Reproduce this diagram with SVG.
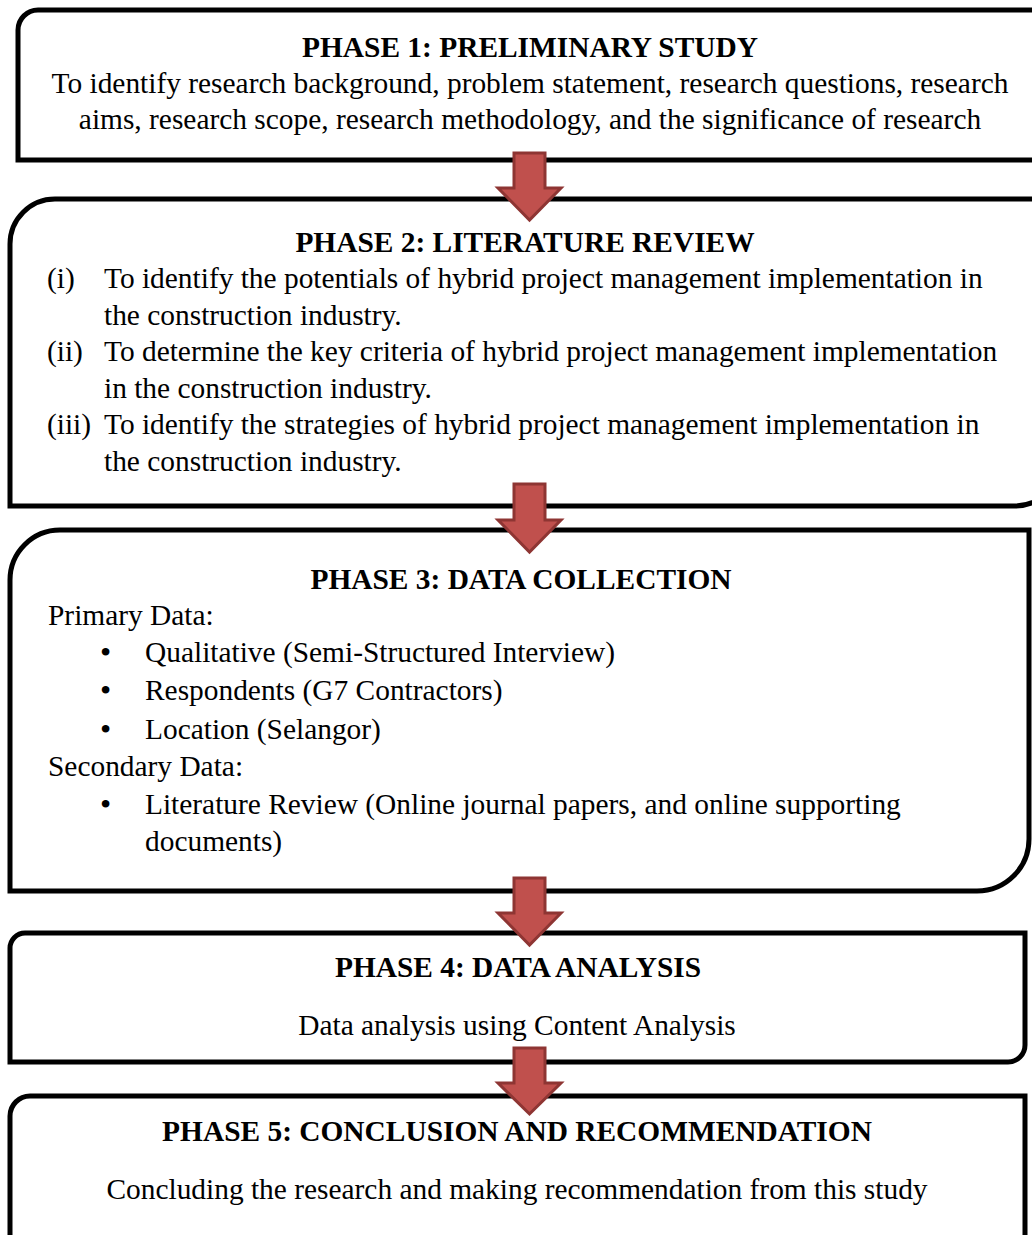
<svg xmlns="http://www.w3.org/2000/svg" width="1032" height="1235" viewBox="0 0 1032 1235">
<style>
.box{fill:#fff;stroke:#000;stroke-width:5}
.arr{fill:#C0504D;stroke:#8E3533;stroke-width:3}
text{font-family:"Liberation Serif","Times New Roman",serif;font-size:29.4px;fill:#000}
.h{font-weight:bold;text-anchor:middle}
.c{text-anchor:middle}
.b{font-size:32px}
</style>
<rect width="1032" height="1235" fill="#fff"/>
<g id="phase1">
<path class="box" d="M18,30 A20,20 0 0 1 38,10 H1060 V140 A20,20 0 0 1 1040,160 H18 Z"/>
<text class="h" x="530" y="57">PHASE 1: PRELIMINARY STUDY</text>
<text class="c" x="530" y="93">To identify research background, problem statement, research questions, research</text>
<text class="c" x="530" y="129">aims, research scope, research methodology, and the significance of research</text>
</g>
<g id="phase2">
<path class="box" d="M10,244 A45,45 0 0 1 55,199 H1060 V461 A45,45 0 0 1 1015,506 H10 Z"/>
<text class="h" x="525" y="252">PHASE 2: LITERATURE REVIEW</text>
<text x="47" y="288">(i)</text><text x="104" y="288">To identify the potentials of hybrid project management implementation in</text>
<text x="104" y="325">the construction industry.</text>
<text x="47" y="361">(ii)</text><text x="104" y="361">To determine the key criteria of hybrid project management implementation</text>
<text x="104" y="398">in the construction industry.</text>
<text x="47" y="434">(iii)</text><text x="104" y="434">To identify the strategies of hybrid project management implementation in</text>
<text x="104" y="471">the construction industry.</text>
</g>
<g id="phase3">
<path class="box" d="M10,580 A50,50 0 0 1 60,530 H1029 V839 A52,52 0 0 1 977,891 H10 Z"/>
<text class="h" x="521" y="589">PHASE 3: DATA COLLECTION</text>
<text x="48" y="625">Primary Data:</text>
<text class="b" x="100" y="663">•</text><text x="145" y="662">Qualitative (Semi-Structured Interview)</text>
<text class="b" x="100" y="701">•</text><text x="145" y="700">Respondents (G7 Contractors)</text>
<text class="b" x="100" y="740">•</text><text x="145" y="739">Location (Selangor)</text>
<text x="48" y="776">Secondary Data:</text>
<text class="b" x="100" y="815">•</text><text x="145" y="814">Literature Review (Online journal papers, and online supporting</text>
<text x="145" y="851">documents)</text>
</g>
<g id="phase4">
<path class="box" d="M10,948 A15,15 0 0 1 25,933 H1025 V1045 A17,17 0 0 1 1008,1062 H10 Z"/>
<text class="h" x="518" y="977">PHASE 4: DATA ANALYSIS</text>
<text class="c" x="517" y="1035">Data analysis using Content Analysis</text>
</g>
<g id="phase5">
<path class="box" d="M10,1116 A20,20 0 0 1 30,1096 H1025 V1260 H10 Z"/>
<text class="h" x="517" y="1141">PHASE 5: CONCLUSION AND RECOMMENDATION</text>
<text class="c" x="517" y="1199">Concluding the research and making recommendation from this study</text>
</g>
<g id="connectors">
<path class="arr" d="M514,153 H545 V188 H561 L529.5,220 L498,188 H514 Z"/>
<path class="arr" d="M514,484 H545 V520 H561 L529.5,552 L498,520 H514 Z"/>
<path class="arr" d="M514,878 H545 V913 H561 L529.5,945 L498,913 H514 Z"/>
<path class="arr" d="M514,1048 H545 V1083 H561 L529.5,1114 L498,1083 H514 Z"/>
</g>
</svg>
